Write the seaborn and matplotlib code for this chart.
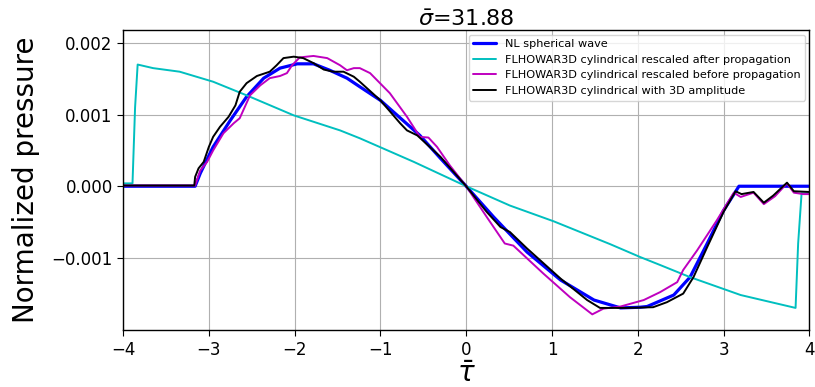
import matplotlib
matplotlib.use("Agg")
import matplotlib.pyplot as plt
import seaborn as sns
import pandas as pd

# NL spherical wave
tau_blue = [-4.0, -3.16, -3.10, -2.95, -2.75, -2.56, -2.36, -2.17, -1.97, -1.78, -1.59, -1.39, -1.24, -1.0,
            -0.54, -0.30, 0.0, 0.32, 0.71, 1.10, 1.49, 1.80, 2.03, 2.11, 2.42, 2.61, 2.81, 3.0, 3.18, 4.0]
p_blue = [0.0, 0.0, 0.00018, 0.00055, 0.00092, 0.00125, 0.00151, 0.00165, 0.00171, 0.00171, 0.00162, 0.00151,
          0.00139, 0.00120, 0.00071, 0.00039, 0.0, -0.00043, -0.00092, -0.00131, -0.00159, -0.00170, -0.00169,
          -0.00168, -0.00152, -0.00127, -0.00080, -0.00034, 0.0, 0.0]

# FLHOWAR3D cylindrical rescaled after propagation
tau_cyan = [-4.0, -3.89, -3.86, -3.83, -3.65, -3.34, -2.95, -2.56, -2.01, -1.47, -1.24, -0.61, 0.0,
            0.51, 1.02, 1.68, 2.03, 2.26, 2.61, 3.20, 3.84, 3.87, 3.91, 4.0]
p_cyan = [0.00004, 0.00004, 0.0011, 0.00170, 0.00165, 0.00160, 0.00146, 0.00127, 0.00099, 0.00078, 0.00067,
          0.00034, 0.0, -0.00027, -0.00049, -0.00081, -0.00099, -0.00110, -0.00127, -0.00152, -0.00170,
          -0.0008, -0.00010, -0.00010]

# FLHOWAR3D cylindrical rescaled before propagation
tau_mag = [-4.0, -3.16, -3.10, -3.02, -2.95, -2.83, -2.71, -2.64, -2.58, -2.52, -2.40, -2.29, -2.17, -2.09,
           -2.03, -1.94, -1.78, -1.62, -1.47, -1.39, -1.31, -1.24, -1.12, -0.89, -0.69, -0.54, -0.44, -0.34,
           -0.19, 0.0, 0.24, 0.45, 0.55, 0.90, 1.21, 1.47, 1.60, 1.80, 2.07, 2.26, 2.46, 2.53, 2.69, 2.92, 3.12,
           3.20, 3.35, 3.47, 3.60, 3.74, 3.82, 3.93, 4.0]
p_mag = [0.00001, 0.00001, 0.00022, 0.00034, 0.00050, 0.00074, 0.00088, 0.00095, 0.00111, 0.00127, 0.00141,
         0.00151, 0.00154, 0.00158, 0.00169, 0.00180, 0.00182, 0.00179, 0.00169, 0.00162, 0.00165, 0.00165,
         0.00158, 0.00130, 0.00097, 0.00069, 0.00068, 0.00055, 0.00029, 0.0, -0.00043, -0.00080, -0.00083,
         -0.00122, -0.00155, -0.00179, -0.00171, -0.00168, -0.00159, -0.00148, -0.00134, -0.00117, -0.00090,
         -0.00048, -0.00009, -0.00015, -0.00009, -0.00025, -0.00014, 0.00004, -0.00009, -0.00011, -0.00011]

# FLHOWAR3D cylindrical with 3D amplitude
tau_blk = [-4.0, -3.17, -3.16, -3.12, -3.06, -3.0, -2.95, -2.87, -2.77, -2.69, -2.64, -2.56, -2.44, -2.29,
           -2.21, -2.13, -2.01, -1.90, -1.78, -1.66, -1.55, -1.43, -1.31, -1.24, -1.0, -0.77, -0.69, -0.57,
           -0.30, 0.0, 0.24, 0.40, 0.51, 0.71, 1.10, 1.41, 1.56, 1.87, 2.18, 2.34, 2.53, 2.65, 2.81, 3.0, 3.14,
           3.21, 3.35, 3.47, 3.58, 3.74, 3.82, 4.0]
p_blk = [0.00001, 0.00001, 0.00013, 0.00025, 0.00034, 0.00055, 0.00069, 0.00083, 0.00097, 0.00113, 0.00132,
         0.00144, 0.00154, 0.00160, 0.00169, 0.00179, 0.00181, 0.00179, 0.00172, 0.00163, 0.00160, 0.00160,
         0.00153, 0.00146, 0.00120, 0.00088, 0.00078, 0.00071, 0.00041, 0.0, -0.00036, -0.00057, -0.00064,
         -0.00087, -0.00129, -0.00159, -0.00170, -0.00170, -0.00169, -0.00162, -0.00150, -0.00127, -0.00085,
         -0.00036, -0.00007, -0.00011, -0.00008, -0.00023, -0.00013, 0.00005, -0.00007, -0.00008]

labels = ["NL spherical wave",
          "FLHOWAR3D cylindrical rescaled after propagation",
          "FLHOWAR3D cylindrical rescaled before propagation",
          "FLHOWAR3D cylindrical with 3D amplitude"]
x_ticks = [-4, -3, -2, -1, 0, 1, 2, 3, 4]
y_ticks = [-0.001, 0.0, 0.001, 0.002]
y_ticklabels = ["−0.001", "0.000", "0.001", "0.002"]

sns.set_style("ticks")
plt.rcParams['font.family'] = ['DejaVu Sans']
plt.rcParams['text.color'] = 'black'
plt.rcParams['axes.labelcolor'] = 'black'
plt.rcParams['xtick.color'] = 'black'
plt.rcParams['ytick.color'] = 'black'

fig = plt.figure(figsize=(8.15, 3.87), dpi=100)
ax = fig.add_axes([0.151, 0.147, 0.842, 0.775])

series = [(tau_blue, p_blue, 'b', 2.3, labels[0]),
          (tau_cyan, p_cyan, 'c', 1.4, labels[1]),
          (tau_mag, p_mag, 'm', 1.4, labels[2]),
          (tau_blk, p_blk, 'k', 1.4, labels[3])]
for t, p, col, lw, lab in series:
    df = pd.DataFrame({"tau": t, "p": p})
    sns.lineplot(data=df, x="tau", y="p", color=col, linewidth=lw, label=lab, ax=ax, sort=False)

ax.set_xlim(-4, 4)
ax.set_ylim(-0.00201, 0.00218)
ax.set_xticks(x_ticks)
ax.set_yticks(y_ticks)
ax.set_yticklabels(y_ticklabels)
ax.tick_params(labelsize=12, direction='out', length=4, color='black')
ax.grid(True, color='#b0b0b0', linewidth=0.8)
for s in ax.spines.values():
    s.set_color('black')
    s.set_linewidth(1.0)
ax.set_xlabel(r"$\bar{\tau}$", fontsize=20, labelpad=1)
ax.set_ylabel("Normalized pressure", fontsize=20, labelpad=8)
ax.set_title(r"$\bar{\sigma}$=31.88", fontsize=16, pad=3)
leg = ax.legend(loc='upper right', fontsize=8.1, frameon=True, borderaxespad=0.4)
leg.get_frame().set_edgecolor('#cccccc')

fig.savefig("out.png", dpi=100)
